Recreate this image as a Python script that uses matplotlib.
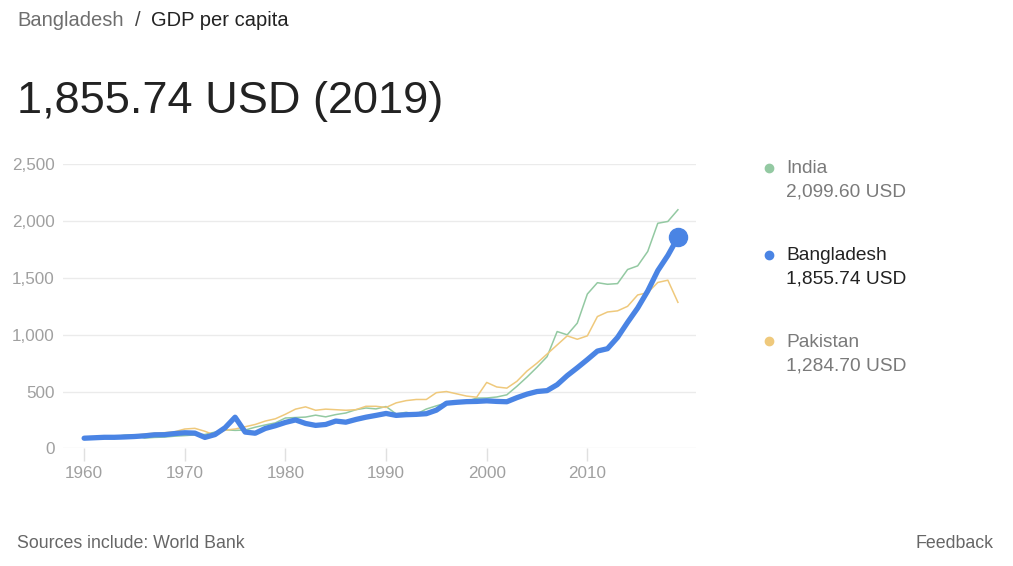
import matplotlib.pyplot as plt
from matplotlib.lines import Line2D

plt.rcParams['font.family'] = ['Liberation Sans', 'DejaVu Sans']

years = list(range(1960, 2020))

bangladesh = [89, 93, 97, 97, 100, 104, 110, 119, 120, 130,
              137, 134, 96, 121, 181, 274, 143, 133, 175, 199,
              228, 250, 219, 202, 210, 240, 230, 254, 274, 290,
              307, 290, 296, 299, 305, 336, 397, 405, 411, 413,
              418, 413, 410, 446, 477, 500, 508, 560, 640, 709,
              781, 856, 877, 976, 1109, 1235, 1385, 1564, 1698, 1856]

india = [82, 85, 90, 101, 116, 119, 90, 96, 99, 107,
         112, 118, 122, 143, 163, 158, 161, 186, 206, 224,
         267, 271, 275, 292, 277, 297, 311, 340, 355, 347,
         368, 303, 317, 301, 346, 374, 400, 415, 413, 442,
         443, 452, 471, 546, 627, 714, 807, 1028, 999, 1102,
         1358, 1458, 1444, 1450, 1574, 1606, 1733, 1981, 1997, 2100]

pakistan = [83, 87, 92, 98, 108, 114, 126, 133, 138, 146,
            170, 176, 150, 115, 160, 170, 190, 210, 240, 260,
            300, 345, 365, 335, 345, 340, 335, 340, 370, 370,
            360, 400, 420, 430, 430, 490, 500, 480, 460, 450,
            580, 540, 530, 590, 680, 750, 830, 910, 990, 960,
            990, 1160, 1200, 1210, 1250, 1350, 1370, 1460, 1480, 1285]

names = ['India', 'Bangladesh', 'Pakistan']
latest = ['2,099.60 USD', '1,855.74 USD', '1,284.70 USD']

blue = '#4a84e4'
green = '#93c9a2'
yellow = '#efc97c'
gray = '#a0a0a0'

fig = plt.figure(figsize=(10.13, 5.66), dpi=100)
ax = fig.add_axes([0.0622, 0.2079, 0.6249, 0.5018])

ax.plot(years, india, color=green, lw=1.1)
ax.plot(years, pakistan, color=yellow, lw=1.1)
ax.plot(years, bangladesh, color=blue, lw=3.8, solid_capstyle='round', solid_joinstyle='round')
ax.plot(years[-1], bangladesh[-1], 'o', color=blue, ms=13)

ax.set_xlim(1957.9, 2020.8)
ax.set_ylim(0, 2500)
ax.set_yticks([0, 500, 1000, 1500, 2000, 2500])
ax.set_yticklabels(['0', '500', '1,000', '1,500', '2,000', '2,500'])
ax.set_xticks([1960, 1970, 1980, 1990, 2000, 2010])
ax.grid(axis='y', color='#ebebeb', lw=1)
ax.set_axisbelow(True)
for s in ax.spines.values():
    s.set_visible(False)
ax.tick_params(axis='y', length=0, pad=6, labelsize=12.3, labelcolor=gray)
ax.tick_params(axis='x', length=9, width=1, color='#e0e0e0', pad=4, labelsize=12.3, labelcolor=gray)

fig.text(0.0168, 0.963, 'Bangladesh', fontsize=14.5, color='#6e6e6e', va='center')
fig.text(0.1335, 0.963, '/', fontsize=14.5, color='#444444', va='center')
fig.text(0.149, 0.963, 'GDP per capita', fontsize=14.5, color='#222222', va='center')
fig.text(0.0168, 0.82, '1,855.74 USD (2019)', fontsize=32.5, color='#222222', va='center')

ys = [0.702, 0.548, 0.395]
cols = [green, blue, yellow]
for name, val, y, c in zip(names, latest, ys, cols):
    tc = '#222222' if name == 'Bangladesh' else '#7a7a7a'
    fig.add_artist(Line2D([0.7595], [y + 0.002], marker='o', color=c, ms=6, transform=fig.transFigure))
    fig.text(0.776, y, name, fontsize=13.8, color=tc, va='center')
    fig.text(0.776, y - 0.041, val, fontsize=13.8, color=tc, va='center')

fig.text(0.0168, 0.039, 'Sources include: World Bank', fontsize=12.8, color='#666666', va='center')
fig.text(0.981, 0.039, 'Feedback', fontsize=12.8, color='#666666', va='center', ha='right')

fig.savefig('out.png', dpi=100)
